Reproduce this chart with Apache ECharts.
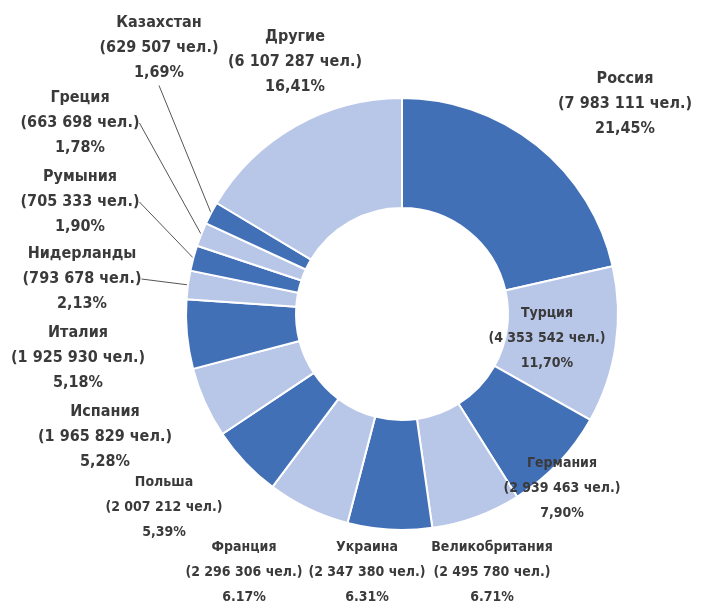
<!DOCTYPE html>
<html lang="ru">
<head>
	<meta charset="UTF-8">
	<title>donut</title>
	<style>
		html, body{ margin:0; padding:0; background:#fff; }
		#main{ width:708px; height:605px; }
	</style>
	<script src="https://cdn.jsdelivr.net/npm/echarts@6/dist/echarts.min.js"></script>
</head>
<body>
	<div id="main"></div>
	<script>
		// данные, по часовой стрелке от 12 часов
		var countries = ['Россия','Турция','Германия','Великобритания','Украина','Франция','Польша',
			'Испания','Италия','Нидерланды','Румыния','Греция','Казахстан','Другие'];
		var people = [7983111, 4353542, 2939463, 2495780, 2347380, 2296306, 2007212,
			1965829, 1925930, 793678, 705333, 663698, 629507, 6107287];
		var pctLabels = ['21,45%','11,70%','7,90%','6.71%','6.31%','6.17%','5,39%',
			'5,28%','5,18%','2,13%','1,90%','1,78%','1,69%','16,41%'];

		// куда ставить подписи (центр блока текста) и размер шрифта
		var labelPos = [[625,104],[547,338],[562,488],[492,572],[367,572],[244,572],[164,507],
			[105,437],[78,358],[82,279],[80,202],[80,123],[159,48],[295,62]];
		var labelSize = [16,14,14,14,14,14,14, 16,16,16,16,16,16,16];
		var withLine = [9,10,11,12];

		var darkBlue = '#4270b7';
		var lightBlue = '#b8c6e7';

		function fmt(n){
			return String(n).replace(/\B(?=(\d{3})+(?!\d))/g, ' ');
		}

		var seriesData = countries.map(function(name, i){
			return {
				name: name,
				value: people[i],
				itemStyle: { color: i % 2 === 0 ? darkBlue : lightBlue },
				label: { fontSize: labelSize[i] },
				labelLine: { show: withLine.indexOf(i) >= 0 }
			};
		});

		var myChart = echarts.init(document.getElementById('main'));
		var option = {
			animation: false,
			series: [{
				type: 'pie',
				center: [402, 314],
				radius: [106, 216],
				startAngle: 90,
				clockwise: true,
				avoidLabelOverlap: false,
				itemStyle: { borderColor: '#fff', borderWidth: 2 },
				label: {
					show: true,
					position: 'outside',
					fontFamily: '"DejaVu Sans Condensed", sans-serif',
					fontWeight: 'bold',
					fontSize: 16,
					lineHeight: 25,
					color: '#3a3a3a',
					align: 'center',
					formatter: function(p){
						return p.name + '\n(' + fmt(p.value) + ' чел.)\n' + pctLabels[p.dataIndex];
					}
				},
				labelLine: {
					show: false,
					length: 0,
					length2: 0,
					lineStyle: { color: '#555', width: 1 }
				},
				labelLayout: function(params){
					var pos = labelPos[params.dataIndex];
					return { x: pos[0], y: pos[1], align: 'center', verticalAlign: 'middle' };
				},
				emphasis: { disabled: true },
				data: seriesData
			}]
		};
		myChart.setOption(option);
	</script>
</body>
</html>
